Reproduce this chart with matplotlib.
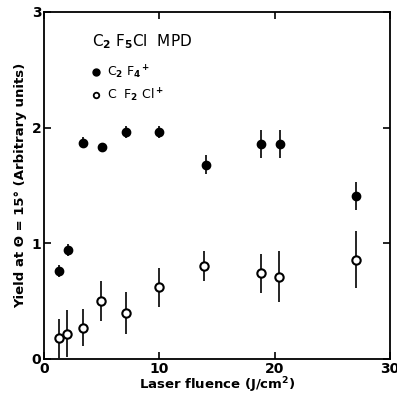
import numpy as np
import matplotlib.pyplot as plt

# C2F4+ (filled)
fluence_c2f4 = [1.3, 2.05, 3.4, 5.0, 7.15, 10.0, 14.05, 18.85, 20.45, 27.1]
yield_c2f4 = [0.76, 0.94, 1.87, 1.83, 1.96, 1.96, 1.68, 1.86, 1.86, 1.41]
err_c2f4 = [0.05, 0.05, 0.05, 0.04, 0.05, 0.05, 0.08, 0.12, 0.12, 0.12]

# CF2Cl+ (open)
fluence_cf2cl = [1.3, 2.0, 3.4, 4.97, 7.1, 9.95, 13.9, 18.8, 20.4, 27.05]
yield_cf2cl = [0.18, 0.22, 0.27, 0.50, 0.40, 0.62, 0.80, 0.74, 0.71, 0.86]
err_cf2cl = [0.17, 0.20, 0.16, 0.17, 0.18, 0.17, 0.13, 0.17, 0.22, 0.25]

x_ticks = [0, 10, 20, 30]
y_ticks = [0, 1, 2, 3]

plt.rcParams['font.family'] = 'DejaVu Sans'
plt.rcParams['font.weight'] = 'bold'

fig = plt.figure(figsize=(3.97, 3.98), dpi=100)
ax = fig.add_axes([0.111, 0.098, 0.871, 0.872])

ax.errorbar(fluence_c2f4, yield_c2f4, yerr=err_c2f4, fmt='o', color='black',
            ms=6, elinewidth=1.2, capsize=0)
ax.errorbar(fluence_cf2cl, yield_cf2cl, yerr=err_cf2cl, fmt='o', color='black',
            mfc='white', mec='black', mew=1.5, ms=6, elinewidth=1.2, capsize=0)

ax.set_xlim(0, 30)
ax.set_ylim(0, 3)
ax.set_xticks(x_ticks)
ax.set_yticks(y_ticks)
ax.tick_params(direction='in', top=True, right=True, length=5, width=1.2,
               labelsize=10, pad=2)
for s in ax.spines.values():
    s.set_linewidth(1.3)

ax.set_xlabel('Laser fluence (J/cm$^2$)', fontsize=9.5, fontweight='bold', labelpad=0)
ax.set_ylabel('Yield at Θ = 15° (Arbitrary units)', fontsize=9.5,
              fontweight='bold', labelpad=3)

ax.text(4.2, 2.70, 'C$_2$ F$_5$Cl  MPD', fontsize=11, fontweight='normal')
ax.plot([4.5], [2.48], 'o', color='black', ms=5)
ax.text(5.5, 2.44, 'C$_2$ F$_4$$^+$', fontsize=9, fontweight='normal')
ax.plot([4.5], [2.28], 'o', color='black', mfc='white', mew=1.3, ms=4)
ax.text(5.5, 2.24, 'C  F$_2$ Cl$^+$', fontsize=9, fontweight='normal')

plt.savefig('out.png', dpi=100)
